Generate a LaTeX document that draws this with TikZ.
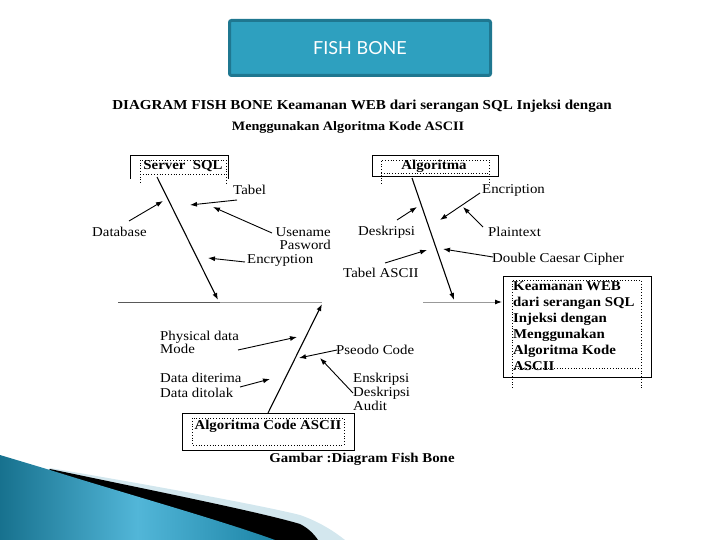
\documentclass[tikz,border=0pt]{standalone}
\usepackage{fontspec}
\setmainfont{Liberation Serif}[FakeStretch=1.1]
\newfontfamily\titlefont{Lato}
\usetikzlibrary{arrows.meta}
\definecolor{titlefill}{HTML}{2EA0BF}
\definecolor{titleborder}{HTML}{1F7790}
\definecolor{bluedark}{HTML}{17718E}
\definecolor{bluemid}{HTML}{52B6D8}
\definecolor{blueright}{HTML}{1C84A6}
\definecolor{lightband}{HTML}{D3E7EE}
\begin{document}
\begin{tikzpicture}[x=1pt,y=-1pt,
  lbl/.style={inner sep=0pt, font=\fontsize{13.5}{13.5}\selectfont},
  bone/.style={line width=1.1pt, -{Latex[length=7pt,width=5pt]}},
  sub/.style={line width=0.9pt, -{Latex[length=7pt,width=5pt]}},
  boxtxt/.style={inner sep=0pt, font=\bfseries\fontsize{13.5}{16}\selectfont},
  dotb/.style={dotted, line width=0.8pt},
  solb/.style={line width=1pt}]
\useasboundingbox (0,0) rectangle (720,540);

% bottom-left decoration
\fill[lightband] (50,468) .. controls (150,485) and (260,505) .. (300,515) .. controls (320,522) and (335,532) .. (345,540) -- (0,540) -- cycle;
\fill[black] (50,469) .. controls (150,490) and (260,512) .. (300,524) .. controls (308,528) and (314,534) .. (318,540) -- (0,540) -- cycle;
\shade[left color=bluedark, right color=blueright, middle color=bluemid]
  (0,455) -- (50,470) .. controls (120,492) and (220,520) .. (275,540) -- (0,540) -- cycle;

% title
\node[draw=titleborder, fill=titlefill, line width=3pt, rounded corners=2pt,
  minimum width=261pt, minimum height=55pt, text=white,
  font=\titlefont\fontsize{18}{18}\selectfont] (title) at (360,48) {FISH BONE};

% heading
\node[inner sep=0pt, font=\bfseries\fontsize{13.7}{13.7}\selectfont] (head1) at (362,106)
  {DIAGRAM FISH BONE Keamanan WEB dari serangan SQL Injeksi dengan};
\node[inner sep=0pt, font=\bfseries\fontsize{12.9}{12.9}\selectfont] (head2) at (348,127)
  {Menggunakan Algoritma Kode ASCII};

% Server SQL box
\draw[solb] (130,179) -- (130,156) -- (228,156) -- (228,179);
\draw[dotb] (140,183) -- (140,160) -- (226,160) -- (226,183);
\draw[dotb] (140,174) -- (226,174);
\node[boxtxt] (server) at (183,166) {Server\ \ SQL};

% Algoritma box
\draw[solb] (372,156) rectangle (498,177);
\draw[dotb] (381,184) -- (381,160) -- (489,160) -- (489,183);
\draw[dotb] (381,173) -- (489,173);
\node[boxtxt] (algo) at (434,166) {Algoritma};

% target box
\draw[solb] (503,276) rectangle (651,377);
\draw[dotb] (512,388) -- (512,280) -- (641,280) -- (641,388);
\draw[dotb] (512,368) -- (641,368);
\node[boxtxt, anchor=north west, align=left] (target) at (513,281)
  {Keamanan WEB\\dari serangan SQL\\Injeksi dengan\\Menggunakan\\Algoritma Kode\\ASCII};

% bottom box
\draw[solb] (182,413) rectangle (354,450);
\draw[dotb] (192,418) rectangle (344,445);
\node[boxtxt] (code) at (268,426) {Algoritma Code ASCII};

% caption
\node[boxtxt] (cap) at (362,459) {Gambar :Diagram Fish Bone};

% spine
\coordinate (spL) at (118,302);
\coordinate (spA) at (220,302);
\coordinate (spB) at (322,302);
\coordinate (spC) at (423,302);
\coordinate (spD) at (502,302);
\draw[line width=1pt, black!65] (spL) -- (spA);
\draw[line width=1pt, black!40] (spA) -- (spB);
\draw[line width=1pt, black!40, -{Latex[length=7pt,width=5pt,color=black]}] (spC) -- (spD);

% bones
\coordinate (b1s) at (157,177); \coordinate (b1t) at (218,300);
\coordinate (b2s) at (412,178); \coordinate (b2t) at (454,300);
\coordinate (b3s) at (268,413); \coordinate (b3t) at (322,304);
\draw[bone] (b1s) -- (b1t);
\draw[bone] (b2s) -- (b2t);
\draw[bone] (b3s) -- (b3t);

% labels
\node[lbl, anchor=west] (database) at (92,232) {Database};
\node[lbl, anchor=west] (tabel) at (233,190) {Tabel};
\node[lbl, anchor=north east, align=right, font=\fontsize{13.5}{13}\selectfont] (user) at (331,227) {Usename\\Pasword};
\node[lbl, anchor=west] (encry) at (247,260) {Encryption};
\node[lbl, anchor=west] (deskr) at (358,232) {Deskripsi};
\node[lbl, anchor=west] (encri) at (482,190) {Encription};
\node[lbl, anchor=west] (plain) at (488,232) {Plaintext};
\node[lbl, anchor=west] (dcc) at (492,259) {Double Caesar Cipher};
\node[lbl, anchor=west] (tascii) at (343,273) {Tabel ASCII};
\node[lbl, anchor=north west, align=left, font=\fontsize{13.5}{13}\selectfont] (phys) at (160,331) {Physical data\\Mode};
\node[lbl, anchor=west] (pseodo) at (336,350) {Pseodo Code};
\node[lbl, anchor=north west, align=left, font=\fontsize{13.5}{15}\selectfont] (data) at (160,373) {Data diterima\\Data ditolak};
\node[lbl, anchor=north west, align=left, font=\fontsize{13.5}{14}\selectfont] (ensk) at (353,373) {Enskripsi\\Deskripsi\\Audit};

% sub arrows
\coordinate (dbS) at (129,221); \coordinate (dbT) at (163,201);
\coordinate (tbS) at (237,200); \coordinate (tbT) at (190,205);
\coordinate (usS) at (272,233); \coordinate (usT) at (213,207);
\coordinate (enS) at (245,262); \coordinate (enT) at (208,258);
\coordinate (deS) at (397,220); \coordinate (deT) at (417,207);
\coordinate (ecS) at (480,193); \coordinate (ecT) at (440,220);
\coordinate (plS) at (483,227); \coordinate (plT) at (463,207);
\coordinate (dcS) at (493,257); \coordinate (dcT) at (443,249);
\coordinate (taS) at (385,263); \coordinate (taT) at (427,250);
\coordinate (phS) at (238,350); \coordinate (phT) at (297,337);
\coordinate (psS) at (337,350); \coordinate (psT) at (299,358);
\coordinate (ekS) at (353,393); \coordinate (ekT) at (320,358);
\coordinate (daS) at (240,387); \coordinate (daT) at (270,379);
\draw[sub] (dbS) -- (dbT);
\draw[sub] (tbS) -- (tbT);
\draw[sub] (usS) -- (usT);
\draw[sub] (enS) -- (enT);
\draw[sub] (deS) -- (deT);
\draw[sub] (ecS) -- (ecT);
\draw[sub] (plS) -- (plT);
\draw[sub] (dcS) -- (dcT);
\draw[sub] (taS) -- (taT);
\draw[sub] (phS) -- (phT);
\draw[sub] (psS) -- (psT);
\draw[sub] (ekS) -- (ekT);
\draw[sub] (daS) -- (daT);
\end{tikzpicture}
\end{document}
